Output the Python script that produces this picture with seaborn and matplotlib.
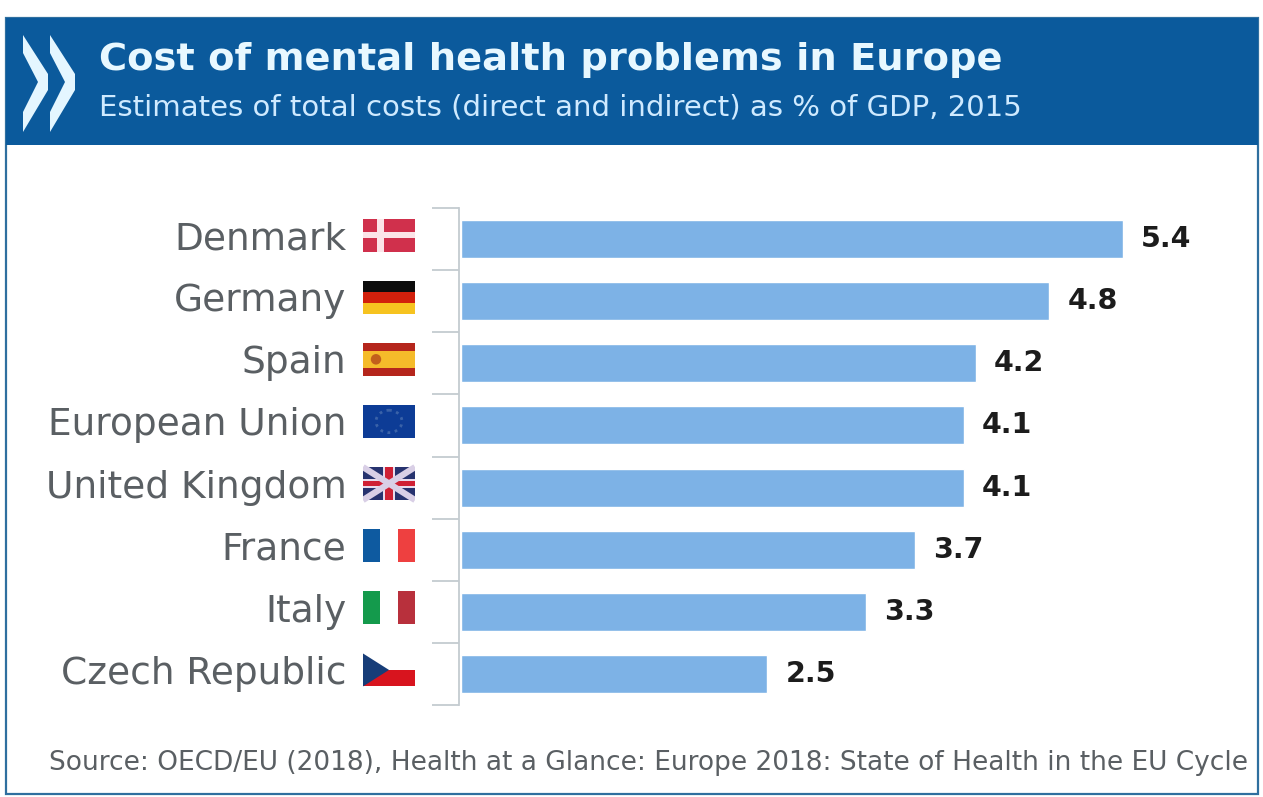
import matplotlib
matplotlib.use("Agg")
import matplotlib.pyplot as plt
from matplotlib.patches import Rectangle, Polygon, Ellipse
from matplotlib.transforms import ScaledTranslation
import pandas as pd
import seaborn as sns

countries = ["Denmark", "Germany", "Spain", "European Union",
             "United Kingdom", "France", "Italy", "Czech Republic"]
cost_pct_gdp = [5.4, 4.8, 4.2, 4.1, 4.1, 3.7, 3.3, 2.5]

title = "Cost of mental health problems in Europe"
subtitle = "Estimates of total costs (direct and indirect) as % of GDP, 2015"
source = "Source: OECD/EU (2018), Health at a Glance: Europe 2018: State of Health in the EU Cycle"

W, H = 1263, 797
BLUE = "#0b5a9c"
BAR = "#7db2e6"
TEXT = "#5a5f63"

sns.set_theme(style="white", font="DejaVu Sans")
fig = plt.figure(figsize=(W / 100, H / 100), dpi=100, facecolor="white")


def px_axes(x0, y0, x1, y1, **kw):
    """Axes placed by pixel box, with y counted from the top edge."""
    return fig.add_axes([x0 / W, 1 - y1 / H, (x1 - x0) / W, (y1 - y0) / H], **kw)


# Frame, banner and headings, drawn in a full-figure pixel space
bg = px_axes(0, 0, W, H)
bg.set_xlim(0, W)
bg.set_ylim(H, 0)
bg.axis("off")
bg.add_patch(Rectangle((6, 18), 1252, 776, fc="white", ec="#2f6f9f", lw=1.6))
bg.add_patch(Rectangle((6, 18), 1252, 127, fc=BLUE, ec="none"))
for dx in (0, 27):
    bg.add_patch(Polygon([(23 + dx, 35), (48 + dx, 74), (48 + dx, 90), (23 + dx, 132),
                          (23 + dx, 112), (38 + dx, 82), (23 + dx, 53)],
                         fc="#e4f6ff", ec="none"))
bg.text(99, 60, title, color="#e8f8ff", fontsize=27.6, fontweight="bold", va="center")
bg.text(99, 107, subtitle, color="#cfeaff", fontsize=21, va="center")
bg.text(49, 763, source, color=TEXT, fontsize=19, va="center")

# Bars
df = pd.DataFrame({"country": countries, "cost": cost_pct_gdp})
ax = px_axes(459, 208, 1235, 705)
ax.patch.set_alpha(0)
sns.barplot(data=df, x="cost", y="country", orient="h", color=BAR, saturation=1,
            width=0.61, ax=ax)
ax.set_xlim(-0.016, 776 / 122.6 - 0.016)
ax.set_ylim(len(countries) - 0.5, -0.5)
ax.set_xlabel("")
ax.set_ylabel("")
ax.set_xticks([])
sns.despine(ax=ax, left=False, bottom=True)
ax.spines["left"].set_color("#c4cbd0")
ax.spines["left"].set_linewidth(1.3)

# Country names sit left of the flags; separators mark each row's edge
ax.tick_params(axis="y", which="major", length=0, pad=81, labelsize=27, labelcolor=TEXT)
ax.set_yticks([i - 0.5 for i in range(len(countries) + 1)], minor=True)
ax.tick_params(axis="y", which="minor", left=True, length=19.5, width=1.3, color="#c4cbd0")
nudge = ScaledTranslation(0, 4 / 100, fig.dpi_scale_trans)
for label in ax.get_yticklabels():
    label.set_transform(label.get_transform() + nudge)

for i, value in enumerate(cost_pct_gdp):
    ax.annotate(f"{value:.1f}", (value, i), xytext=(13, 0), textcoords="offset points",
                va="center", fontsize=20.5, fontweight="bold", color="#1c1c1c")

# Flags, each in a unit box placed on its row
fl = px_axes(363, 204, 415, 701)
fl.set_xlim(0, 1)
fl.set_ylim(len(countries) - 0.5, -0.5)
fl.axis("off")
FH = 0.53


def band(i, x0, x1, y0, y1, color):
    fl.add_patch(Rectangle((x0, i - FH / 2 + y0 * FH), x1 - x0, (y1 - y0) * FH,
                           fc=color, ec="none"))


# Denmark
band(0, 0, 1, 0, 1, "#d0304c")
band(0, 0.27, 0.41, 0, 1, "#fbe4e8")
band(0, 0, 1, 0.42, 0.58, "#fbe4e8")
# Germany
band(1, 0, 1, 0, 1 / 3, "#0c0c0c")
band(1, 0, 1, 1 / 3, 2 / 3, "#d2200c")
band(1, 0, 1, 2 / 3, 1, "#f6c320")
# Spain
band(2, 0, 1, 0, 1, "#b5261c")
band(2, 0, 1, 0.25, 0.75, "#f5bb2a")
fl.add_patch(Ellipse((0.25, 2), 0.2, FH * 0.32, fc="#c2601c", ec="none"))
# European Union
band(3, 0, 1, 0, 1, "#0d3c96")
fl.add_patch(Ellipse((0.5, 3), 0.5, FH * 0.68, fc="none", ec="#3a62a8", lw=2, ls=":"))
# United Kingdom
band(4, 0, 1, 0, 1, "#27336f")
for a, b in ((0, 1), (1, 0)):
    y0, y1 = 4 - FH / 2 + a * FH, 4 - FH / 2 + b * FH
    fl.plot([0, 1], [y0, y1], color="#d9cfe6", lw=4.5, solid_capstyle="butt")
band(4, 0.38, 0.62, 0, 1, "#e8dcec")
band(4, 0, 1, 0.36, 0.64, "#e8dcec")
band(4, 0.43, 0.57, 0, 1, "#cf2034")
band(4, 0, 1, 0.42, 0.58, "#cf2034")
# France
band(5, 0, 1 / 3, 0, 1, "#0e5aa0")
band(5, 2 / 3, 1, 0, 1, "#ee4040")
# Italy
band(6, 0, 1 / 3, 0, 1, "#149a4c")
band(6, 2 / 3, 1, 0, 1, "#b8303c")
# Czech Republic
band(7, 0, 1, 0.5, 1, "#d8141e")
fl.add_patch(Polygon([(0, 7 - FH / 2), (0.5, 7), (0, 7 + FH / 2)], fc="#173d78", ec="none"))

fig.savefig("out.png", dpi=100, facecolor="white")
